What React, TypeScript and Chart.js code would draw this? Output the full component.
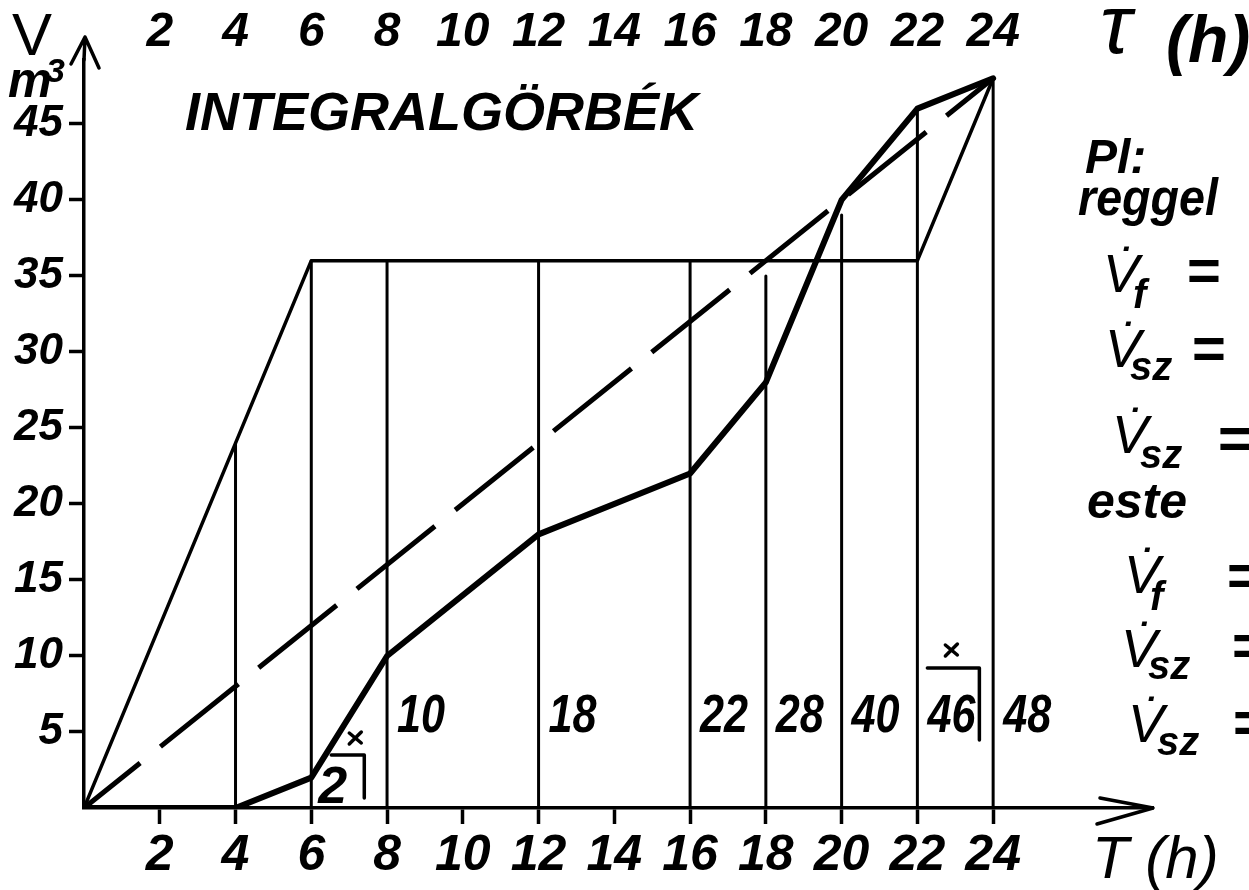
import React, { useEffect, useRef } from 'react';
import { Chart, registerables } from 'chart.js';

Chart.register(...registerables);

// ---- data ----
const hourTicks = [2, 4, 6, 8, 10, 12, 14, 16, 18, 20, 22, 24];
const volumeTicks = [5, 10, 15, 20, 25, 30, 35, 40, 45];

const consumptionHours = [0, 4, 6, 8, 12, 16, 18, 20, 22, 24];
const consumptionVolume = [0, 0, 2, 10, 18, 22, 28, 40, 46, 48];

const supplyHours = [0, 4, 6, 22, 24];
const supplyVolume = [0, 24, 36, 36, 48];

const averageHours = [0, 24];
const averageVolume = [0, 48];

const guideHours = [4, 6, 8, 12, 16, 18, 20, 22, 24];
const guideTops = [24, 36, 36, 36, 36, 35, 39, 46, 48];

const labelledHours = [8, 12, 16, 18, 20, 22, 24];
const markedHours = [6, 22];

const titleText = 'INTEGRALGÖRBÉK';
const yAxisSymbol = 'V';
const yAxisUnit = 'm';
const yAxisUnitPower = '3';
const topAxisSymbol = 'τ';
const topAxisUnit = '(h)';
const bottomAxisTitle = 'T (h)';
const noteWords = ['Pl:', 'reggel', 'este'];
const flowSubscripts = ['f', 'sz', 'sz', 'f', 'sz', 'sz'];

const FONT = '"Liberation Sans", "DejaVu Sans", sans-serif';

const sketchPlugin = {
  id: 'sketch',
  afterDraw(chart: any) {
    const { ctx, chartArea, scales } = chart;
    const xs = scales.x;
    const ys = scales.y;
    ctx.save();
    ctx.fillStyle = '#000';
    ctx.strokeStyle = '#000';
    ctx.lineCap = 'round';
    ctx.lineJoin = 'round';

    const text = (s: string, x: number, y: number, size: number, italic = true, maxWidth?: number, bold = true) => {
      ctx.font = `${italic ? 'italic ' : ''}${bold ? 'bold ' : ''}${size}px ${FONT}`;
      ctx.textAlign = 'left';
      ctx.textBaseline = 'alphabetic';
      if (maxWidth) ctx.fillText(s, x, y, maxWidth);
      else ctx.fillText(s, x, y);
    };

    const ox = xs.getPixelForValue(0);
    const oy = ys.getPixelForValue(0);

    // axis arrows
    ctx.lineWidth = 3.5;
    ctx.beginPath();
    ctx.moveTo(ox, chartArea.top);
    ctx.lineTo(ox + 1, 37);
    ctx.moveTo(ox - 13, 64);
    ctx.lineTo(ox + 1, 37);
    ctx.lineTo(ox + 15, 68);
    ctx.stroke();

    const tipX = chartArea.right;
    ctx.beginPath();
    ctx.moveTo(tipX - 53, oy - 10);
    ctx.lineTo(tipX, oy);
    ctx.lineTo(tipX - 56, oy + 16);
    ctx.stroke();

    // axis symbols
    text(yAxisSymbol, 12, 55, 60, false, undefined, false);
    text(yAxisUnit, 8, 97, 50, true, 44);
    text(yAxisUnitPower, 46, 82, 34, true);
    text(topAxisSymbol, 1100, 53, 84, true, undefined, false);
    text(topAxisUnit, 1166, 62, 66, true);
    text(bottomAxisTitle, 1092, 878, 60, true, undefined, false);

    // title
    text(titleText, 185, 130, 54, true, 520);

    // values along the bottom
    const labelY = ys.getPixelForValue(5);
    labelledHours.forEach((h) => {
      const v = consumptionVolume[consumptionHours.indexOf(h)];
      text(String(v), xs.getPixelForValue(h) + 10, labelY, 54, true, 48);
    });

    // the small boxed value at 6 h
    const h0 = markedHours[0];
    const v0 = consumptionVolume[consumptionHours.indexOf(h0)];
    const x0 = xs.getPixelForValue(h0);
    text(String(v0), x0 + 7, oy - 5, 52, true, 36);

    // brackets and crosses
    ctx.lineWidth = 3.5;
    const bracket = (left: number, right: number, top: number, bottom: number, cx: number, cy: number) => {
      ctx.beginPath();
      ctx.moveTo(left, top);
      ctx.lineTo(right, top);
      ctx.lineTo(right, bottom);
      ctx.stroke();
      ctx.beginPath();
      ctx.moveTo(cx - 6, cy - 5);
      ctx.lineTo(cx + 6, cy + 5);
      ctx.moveTo(cx + 6, cy - 6);
      ctx.lineTo(cx - 6, cy + 6);
      ctx.stroke();
    };
    bracket(x0 + 20, x0 + 53, oy - 53, oy - 10, x0 + 44, oy - 70);
    const x1 = xs.getPixelForValue(markedHours[1]);
    bracket(x1 + 10, x1 + 62, labelY - 64, labelY + 8, x1 + 34, labelY - 82);

    // notes on the right
    text(noteWords[0], 1085, 173, 48, true, 80);
    text(noteWords[1], 1078, 215, 52, true, 140);
    text(noteWords[2], 1087, 518, 50, true, 106);

    const flowRows = [
      { vx: 1103, vy: 292, sx: 1133, sy: 308, ex: 1187, ey: 290 },
      { vx: 1105, vy: 367, sx: 1130, sy: 380, ex: 1192, ey: 368 },
      { vx: 1112, vy: 453, sx: 1140, sy: 468, ex: 1218, ey: 458 },
      { vx: 1124, vy: 593, sx: 1150, sy: 610, ex: 1227, ey: 595 },
      { vx: 1121, vy: 667, sx: 1148, sy: 679, ex: 1232, ey: 665 },
      { vx: 1128, vy: 742, sx: 1157, sy: 755, ex: 1233, ey: 742 },
    ];
    flowRows.forEach((r, i) => {
      text('V\u0307', r.vx, r.vy, 54, true, undefined, false);
      text(flowSubscripts[i], r.sx, r.sy, 40, true);
      text('=', r.ex, r.ey, 58, false);
    });

    ctx.restore();
  },
};

export default function App() {
  const canvasRef = useRef<HTMLCanvasElement | null>(null);

  useEffect(() => {
    if (!canvasRef.current) return;
    const line = (hours: number[], values: number[], width: number, extra: any = {}) => ({
      data: hours.map((h, i) => ({ x: h, y: values[i] })),
      showLine: true,
      borderColor: '#000',
      backgroundColor: '#000',
      borderWidth: width,
      pointRadius: 0,
      tension: 0,
      borderCapStyle: 'round',
      borderJoinStyle: 'round',
      fill: false,
      ...extra,
    });

    const datasets: any[] = [
      line(consumptionHours, consumptionVolume, 6),
      line(supplyHours, supplyVolume, 3.5),
      line(averageHours, averageVolume, 5, { borderDash: [100, 26], borderDashOffset: 28, borderCapStyle: 'butt' }),
      ...guideHours.map((h, i) => line([h, h], [0, guideTops[i]], 3)),
    ];

    const tickFont = (size: number) => ({ size, style: 'italic' as const, weight: 'bold' as const, family: FONT });
    const setTicks = (vals: number[]) => (scale: any) => {
      scale.ticks = vals.map((v) => ({ value: v }));
    };

    const chart = new Chart(canvasRef.current, {
      type: 'scatter',
      data: { datasets },
      options: {
        animation: false,
        responsive: true,
        maintainAspectRatio: false,
        layout: { padding: { left: 0, top: 0, right: 96, bottom: 0 } },
        plugins: { legend: { display: false }, tooltip: { enabled: false } },
        scales: {
          x: {
            type: 'linear',
            position: 'bottom',
            min: 0,
            max: 28.22,
            afterBuildTicks: setTicks(hourTicks),
            afterFit: (s: any) => { s.height = 82; },
            ticks: { font: tickFont(50), color: '#000', padding: 2, maxRotation: 0, autoSkip: false },
            grid: { drawOnChartArea: false, tickLength: 16, tickWidth: 3.5, color: '#000' },
            border: { color: '#000', width: 3.5 },
          },
          xTop: {
            type: 'linear',
            position: 'top',
            min: 0,
            max: 28.22,
            afterBuildTicks: setTicks(hourTicks),
            afterFit: (s: any) => { s.height = 60; },
            ticks: { font: tickFont(48), color: '#000', padding: -2, maxRotation: 0, autoSkip: false },
            grid: { display: false, drawTicks: false },
            border: { display: false },
          },
          y: {
            type: 'linear',
            position: 'left',
            min: 0,
            max: 49.2,
            afterBuildTicks: setTicks(volumeTicks),
            afterFit: (s: any) => { s.width = 84; },
            ticks: { font: tickFont(44), color: '#000', padding: 6, autoSkip: false },
            grid: { drawOnChartArea: false, tickLength: 15, tickWidth: 3.5, color: '#000' },
            border: { color: '#000', width: 3.5 },
          },
        },
      } as any,
      plugins: [sketchPlugin],
    });
    return () => chart.destroy();
  }, []);

  return (
    <div style={{ position: 'fixed', left: 0, top: 0, width: 1249, height: 890, background: '#fff' }}>
      <canvas ref={canvasRef} />
    </div>
  );
}
